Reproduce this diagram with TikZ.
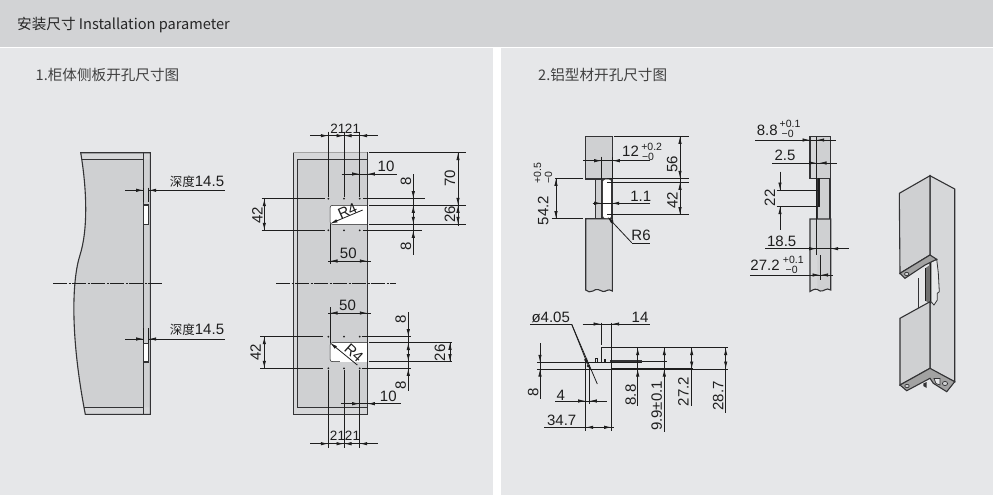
\documentclass[tikz,border=0pt]{standalone}
\usepackage{fontspec}
\setmainfont{Liberation Sans}
\newfontfamily\cjk{Noto Sans CJK SC}
\usetikzlibrary{arrows.meta}
\definecolor{hdr}{HTML}{D2D3D5}
\definecolor{pan}{HTML}{E6E7E9}
\definecolor{fillA}{HTML}{CFD0D2}
\definecolor{fillB}{HTML}{D6D7D9}
\definecolor{ink}{HTML}{1E1E1E}
\definecolor{edge}{HTML}{333335}
\definecolor{band}{HTML}{A2A2A2}
\tikzset{
  dl/.style={draw=ink,line width=0.8pt},
  ar/.style={draw=ink,line width=0.8pt,-{Latex[length=7.5pt,width=3.4pt]}},
  outl/.style={draw=edge,line width=1.1pt},
  thick outl/.style={draw=ink,line width=1.5pt},
  lb/.style={inner sep=0pt,text=ink,font=\fontsize{15}{15}\selectfont},
  lbs/.style={inner sep=0pt,text=ink,font=\fontsize{13.5}{14}\selectfont},
  sm/.style={inner sep=0pt,text=ink,font=\fontsize{10.5}{10.5}\selectfont},
  cn/.style={inner sep=0pt,anchor=west,text=black!75,font=\cjk\fontsize{14.6}{15}\selectfont},
  cnb/.style={inner sep=0pt,anchor=west,text=black!85,font=\cjk\fontsize{14.6}{15}\selectfont},
  ctr/.style={draw=ink,line width=0.8pt,dash pattern=on 14pt off 1.5pt on 2pt off 1.5pt},
}
\newcommand{\arr}[2]{\draw[ar] (#1) -- (#2);}
\newcommand{\hd}[3]{\draw[dl] (#1,#3) -- (#2,#3);}
\newcommand{\vd}[3]{\draw[dl] (#3,#1) -- (#3,#2);}
\begin{document}
\begin{tikzpicture}[x=1pt,y=-1pt]
\useasboundingbox (0,0) rectangle (993,495);
\fill[white] (0,0) rectangle (993,495);
\fill[hdr] (0,0) rectangle (993,46.7);
\fill[pan] (0,48.3) rectangle (493,495);
\fill[pan] (501,48.3) rectangle (993,495);
\node[cnb] (title) at (17,25.5) {安装尺寸 Installation parameter};
\node[cn] (t1) at (35.5,75) {1.柜体侧板开孔尺寸图};
\node[cn] (t2) at (538,75) {2.铝型材开孔尺寸图};

% ---------- cabinet side view
\fill[fillA] (80.7,152.7) .. controls (87,190) and (88,230) .. (80,255) .. controls (72,280) and (70,335) .. (85.3,414.3) -- (150.3,414.3) -- (150.3,152.7) -- cycle;
\fill[fillB] (80.7,152.7) -- (150.3,152.7) -- (150.3,159.3) -- (82,159.3) -- cycle;
\fill[fillB] (83.5,407.3) -- (150.3,407.3) -- (150.3,414.3) -- (85.3,414.3) -- cycle;
\draw[outl] (85.3,414.3) .. controls (70,335) and (72,280) .. (80,255) .. controls (88,230) and (87,190) .. (80.7,152.7) -- (150.3,152.7) -- (150.3,414.3) -- cycle;
\draw[outl] (143.7,152.7) -- (143.7,414.3);
\draw[draw=edge,line width=0.8pt] (82,159.3) -- (143.7,159.3) (83.5,407.3) -- (143.7,407.3);
\draw[outl,fill=white] (143.7,205) rectangle (148.7,224.3);
\draw[outl,fill=white] (143.7,343.3) rectangle (148.7,362);
\draw[ctr] (53.3,283.7) -- (161.7,283.7);
\vd{187.7}{201.7}{143.7}\vd{187.7}{201.7}{148.7}
\hd{125}{143.7}{190.3}\hd{148.7}{225}{190.3}
\arr{132,190.3}{143.7,190.3}\arr{160,190.3}{148.7,190.3}
\node[lb] (d1) at (197,181.5) {{\cjk\fontsize{12.5}{13}\selectfont 深度}14.5};
\vd{328}{343}{143.7}\vd{328}{343}{148.7}
\hd{125}{143.7}{339}\hd{148.7}{225}{339}
\arr{132,339}{143.7,339}\arr{160,339}{148.7,339}
\node[lb] (d2) at (197,329.5) {{\cjk\fontsize{12.5}{13}\selectfont 深度}14.5};

% ---------- panel front view
\fill[fillB] (293.3,152.7) rectangle (367.3,414.3);
\fill[fillA] (297.3,159.3) rectangle (367.3,407.7);
\draw[outl] (293.3,152.7) rectangle (367.3,414.3);
\draw[draw=edge,line width=0.8pt] (367.3,159.3) -- (297.3,159.3) -- (297.3,407.7) -- (367.3,407.7);
\draw[draw=band,line width=1.2pt] (293.3,152.7) -- (367.3,152.7);
\draw[draw=ink,line width=0.5pt,fill=white,rounded corners=2.5pt] (367.3,224.3) -- (330,224.3) -- (330,205.3) -- (367.3,205.3);
\fill[white] (340,205.5) rectangle (367.3,224.1);
\draw[draw=ink,line width=0.5pt,fill=white,rounded corners=2.5pt] (367.3,342.7) -- (330,342.7) -- (330,361.7) -- (367.3,361.7);
\fill[white] (340,342.9) rectangle (367.3,361.5);
\draw[draw=edge,line width=1pt] (367.3,152.7) -- (367.3,414.3);
\draw[ctr] (276,283.7) -- (396,283.7);
\foreach \yy in {198.7,230.3,336.7,368.3}
  \foreach \xx in {328.3,344,359.7}
    \fill[ink] (\xx,\yy) circle (1pt);

% upper hole dims
\foreach \xx in {328.3,344,359.7} {\vd{131.7}{196.7}{\xx}}
\hd{310}{378.3}{135.7}
\arr{318,135.7}{328.3,135.7}\arr{354,135.7}{344,135.7}\arr{334,135.7}{344,135.7}\arr{370,135.7}{359.7,135.7}
\node[lbs] (a21a) at (337.8,128.5) {21};
\node[lbs] (a21b) at (352.5,128.5) {21};
\hd{341.7}{396.7}{174}
\arr{350,174}{359.7,174}\arr{377,174}{367.3,174}
\node[lb] (a10) at (386,166.5) {10};
\hd{369}{465.7}{152.7}\hd{369}{465.7}{205.3}\hd{369}{465.7}{224.3}
\vd{152.7}{226}{458}
\arr{458,162}{458,152.7}\arr{458,195}{458,205.3}\arr{458,214.8}{458,205.3}\arr{458,214.8}{458,224.3}
\node[lb,rotate=90] (a70) at (450,178.5) {70};
\node[lb,rotate=90] (a26) at (450,214.5) {26};
\vd{174.3}{255}{413.3}
\hd{363.3}{425}{198.7}\hd{363.3}{422.3}{230.3}
\arr{413.3,189}{413.3,198.7}\arr{413.3,215}{413.3,205.3}\arr{413.3,215}{413.3,224.3}\arr{413.3,240}{413.3,230.3}
\node[lb,rotate=90] (a8a) at (406,181) {8};
\node[lb,rotate=90] (a8b) at (406,246) {8};
\hd{261.7}{325}{198.7}\hd{261.7}{325}{230.3}
\vd{198.7}{230.3}{264.3}
\arr{264.3,214}{264.3,198.7}\arr{264.3,215}{264.3,230.3}
\node[lb,rotate=90] (a42) at (257.3,215.5) {42};
\vd{224.3}{264.3}{330}
\hd{328.3}{370.7}{261}
\arr{340,261}{330,261}\arr{357,261}{367.3,261}
\node[lb] (a50) at (348.3,253) {50};
\draw[ar] (362.7,210) -- (330,223.7);
\node[lb,rotate=24] (ar4) at (347.5,211) {R4};

% lower hole dims
\vd{307.3}{342.7}{330}
\hd{328.3}{370.7}{313}
\arr{340,313}{330,313}\arr{357,313}{367.3,313}
\node[lb] (b50) at (347.5,305) {50};
\hd{260}{323.3}{336.7}\hd{260}{323.3}{368.3}
\vd{336.7}{368.3}{264.3}
\arr{264.3,352}{264.3,336.7}\arr{264.3,353}{264.3,368.3}
\node[lb,rotate=90] (b42) at (255.7,352.5) {42};
\vd{312.3}{391}{408.3}
\hd{361.7}{410.7}{336.7}\hd{361.7}{410.7}{368.3}
\hd{369}{452.3}{342.3}\hd{369}{452.3}{361.7}
\arr{408.3,327}{408.3,336.7}\arr{408.3,352}{408.3,342.5}\arr{408.3,352}{408.3,361.5}\arr{408.3,378}{408.3,368.3}
\vd{342.3}{361.7}{450}
\arr{450,352}{450,342.3}\arr{450,352}{450,361.7}
\node[lb,rotate=90] (b26) at (440,352.7) {26};
\node[lb,rotate=90] (b8a) at (400.7,319.5) {8};
\node[lb,rotate=90] (b8b) at (400.7,385.5) {8};
\draw[ar] (357.3,365) -- (330,342.7);
\node[lb,rotate=-42] (br4) at (354,353) {R4};
\hd{341}{401}{403.7}
\arr{350,403.7}{359.7,403.7}\arr{377,403.7}{367.3,403.7}
\node[lb] (b10) at (388.3,396.7) {10};
\foreach \xx in {328.3,344,359.7} {\vd{370}{447.7}{\xx}}
\hd{310}{378.3}{443.7}
\arr{318,443.7}{328.3,443.7}\arr{354,443.7}{344,443.7}\arr{334,443.7}{344,443.7}\arr{370,443.7}{359.7,443.7}
\node[lbs] (b21a) at (337.5,435.7) {21};
\node[lbs] (b21b) at (352.5,435.7) {21};

% ---------- profile front view 1
\fill[fillA] (585.7,136.3) rectangle (612.3,179);
\fill[fillA] (585.7,218.7) -- (612.3,218.7) -- (612.3,291) .. controls (608,288) and (606,292) .. (603,291.5) .. controls (599,290) and (597,288) .. (593,291) .. controls (590,292.5) and (588,292) .. (585.7,290) -- cycle;
\fill[fillA] (595.7,179) rectangle (602,218.7);
\draw[outl] (612.3,179) -- (585.7,179) -- (585.7,136.3) -- (612.3,136.3) -- cycle;
\draw[outl] (612.3,291) .. controls (608,288) and (606,292) .. (603,291.5) .. controls (599,290) and (597,288) .. (593,291) .. controls (590,292.5) and (588,292) .. (585.7,290) -- (585.7,218.7) -- (612.3,218.7) -- cycle;
\draw[outl] (595.7,179) -- (595.7,218.7);
\draw[outl] (602,179) -- (602,218.7);
\draw[draw=ink,line width=0.5pt,fill=white,rounded corners=3pt] (611.7,179) -- (602.5,179) -- (602.5,218.7) -- (611.7,218.7) -- cycle;
\draw[outl] (612,179) -- (612,218.7);
\hd{614}{689}{136.3}\hd{607}{689}{178.3}\hd{607}{689}{182.3}\hd{607}{689}{214.7}
\vd{136.3}{214.7}{680}
\arr{680,146}{680,136.3}\arr{680,168}{680,178.3}\arr{680,192}{680,182.3}\arr{680,205}{680,214.7}
\node[lb,rotate=90] (c56) at (672.3,164.3) {56};
\node[lb,rotate=90] (c42) at (672.3,200) {42};
\hd{555}{583.3}{178.3}\hd{551.7}{583.3}{218.7}
\vd{178.3}{218.7}{556}
\arr{556,198}{556,178.3}\arr{556,199}{556,218.7}
\node[lb,rotate=90] (c54) at (543.3,210.5) {54.2};
\node[sm,rotate=90] (c54p) at (537.5,173) {+0.5};
\node[sm,rotate=90] (c54m) at (548.5,177.5) {−0};
\vd{156.7}{179}{601.7}\vd{156.7}{179}{612.3}
\hd{583.3}{650}{160.7}
\arr{592,160.7}{601.7,160.7}\arr{622,160.7}{612.3,160.7}
\node[lb] (c12) at (630.5,151.7) {12};
\node[sm] (c12p) at (651.7,146.5) {+0.2};
\node[sm] (c12m) at (648,156.7) {−0};
\hd{592.7}{650}{203.3}
\arr{592.7,203.3}{601.7,203.3}\arr{621,203.3}{611.7,203.3}
\node[lb] (c11) at (640.7,196.7) {1.1};
\draw[ar] (631.7,242.7) -- (607.3,216.7);
\hd{631.7}{650}{243}
\node[lb] (cr6) at (641,235) {R6};

% ---------- profile side view
\fill[fillB] (810,136.7) rectangle (830.7,178.3);
\fill[fillA] (817.3,136.7) rectangle (830.7,178.3);
\fill[fillA] (817.3,178.3) rectangle (830,219);
\fill[fillB] (810,219) -- (830.7,219) -- (830.7,290) .. controls (826,287) and (824,292) .. (820,291) .. controls (816,288) and (814,289) .. (810,291.5) -- cycle;
\fill[fillA] (817.3,219) -- (830.7,219) -- (830.7,290) .. controls (826,287) and (824,292) .. (820,291) .. controls (819,290.5) and (818,290) .. (817.3,289.5) -- cycle;
\draw[outl] (810,178.3) -- (810,136.7) -- (830.7,136.7) -- (830.7,178.3) -- cycle;
\draw[outl] (817.3,178.3) -- (817.3,219);
\draw[outl] (830,178.3) -- (830,219);
\draw[outl] (830.7,290) .. controls (826,287) and (824,292) .. (820,291) .. controls (816,288) and (814,289) .. (810,291.5) -- (810,219) -- (830.7,219) -- cycle;
\draw[thick outl] (819,178.3) -- (819,206.7);
\vd{136.7}{255}{816.7}
\hd{755}{835.7}{140}
\arr{800,140}{810,140}\arr{826.5,140}{816.7,140}
\node[lb] (e88) at (767.3,130) {8.8};
\node[sm] (e88p) at (790,123.5) {+0.1};
\node[sm] (e88m) at (787.7,133.5) {−0};
\hd{772.3}{837.3}{163}
\arr{807,163}{816.7,163}\arr{829,163}{819,163}
\node[lb] (e25) at (785,155.7) {2.5};
\hd{776.7}{819}{190}\hd{776.7}{819}{206.7}
\vd{171.7}{190}{780}\vd{206.7}{230}{780}
\arr{780,180}{780,190}\arr{780,216.5}{780,206.7}
\node[lb,rotate=90] (e22) at (770,197.7) {22};
\hd{765}{849.3}{248.7}
\arr{807,248.7}{816.7,248.7}\arr{840,248.7}{830.7,248.7}
\node[lb] (e185) at (781.7,241) {18.5};
\vd{255}{280}{820}
\hd{750}{833.3}{275}
\arr{810,275}{820,275}\arr{830,275}{820.5,275}
\node[lb] (e27) at (765,265.7) {27.2};
\node[sm] (e27p) at (793.3,259.5) {+0.1};
\node[sm] (e27m) at (791.7,269.5) {−0};

% ---------- top view
\draw[draw=ink,line width=0.8pt] (537.3,369) -- (728.3,369);
\draw[draw=ink,line width=0.8pt] (537.3,362.3) -- (641.7,362.3);
\draw[draw=ink,line width=0.7pt] (641.7,361) -- (667.3,361);
\draw[draw=ink,line width=1.5pt] (601.7,362) -- (601.7,347.7) -- (694,347.7);
\draw[draw=ink,line width=0.7pt] (694,347.7) -- (728.3,347.7);
\draw[draw=ink,line width=1.5pt] (610.7,369) -- (693.3,369);
\draw[draw=edge,line width=1.5pt] (610,361.2) -- (641.7,361.2);
\draw[draw=ink,line width=1pt] (611.7,347.7) -- (611.7,369);
\draw[draw=ink,line width=1pt] (595,362) -- (595,358) -- (597.5,358) -- (597.5,362);
\fill[ink] (603.5,359) rectangle (606,362);
\vd{322.7}{345}{601}\vd{322.7}{347.7}{611.7}
\hd{582.7}{650}{324}
\arr{591,324}{601,324}\arr{622,324}{611.7,324}
\node[lb] (f14) at (640,317.3) {14};
\node[lb] (fd) at (550.7,317.7) {ø4.05};
\hd{530}{571.7}{324.3}
\draw[dl] (571.7,324.3) -- (597.3,384);
\draw[ar] (571.7,324.3) -- (588.3,366);
\fill[ink] (588.3,366) circle (1.6pt);
\vd{343.3}{399}{540}
\arr{540,352.5}{540,362.3}\arr{540,379}{540,369}
\node[lb,rotate=90] (f8) at (533.3,392.5) {8};
\hd{555}{607.3}{401}
\arr{576,401}{585.7,401}\arr{599,401}{589.3,401}
\node[lb] (f4) at (560.7,395) {4};
\draw[draw=ink,line width=1pt] (585.7,361) -- (585.7,430.7);
\vd{365}{404.3}{589.3}
\vd{369}{430.7}{611.7}
\hd{544}{614.3}{427.3}
\arr{596,427.3}{585.7,427.3}\arr{602,427.3}{611.7,427.3}
\node[lb] (f347) at (561.7,420) {34.7};
\vd{347.7}{406}{637.7}
\arr{637.7,361}{637.7,347.7}\arr{637.7,379}{637.7,369}
\node[lb,rotate=90] (f88) at (630.7,395) {8.8};
\vd{347.7}{431.7}{664.3}
\arr{664.3,361}{664.3,347.7}\arr{664.3,379}{664.3,369}
\node[lb,rotate=90] (f99) at (656.7,406) {9.9±0.1};
\vd{347.7}{406}{691.7}
\arr{691.7,358}{691.7,347.7}\arr{691.7,358.5}{691.7,369}
\node[lb,rotate=90] (f272) at (683.3,391.7) {27.2};
\vd{347.7}{413.3}{725.7}
\arr{725.7,358}{725.7,347.7}\arr{725.7,358.5}{725.7,369}
\node[lb,rotate=90] (f287) at (718.3,396) {28.7};

% ---------- 3D view
% right face
\draw[outl,fill=fillB] (930,175.7) -- (954.7,189) -- (954.7,381.7) -- (930,369) -- cycle;
% recess behind the opening
\fill[pan] (918.3,275) -- (930,266) -- (930,306) -- (918.3,313) -- cycle;
\draw[draw=edge,line width=0.8pt] (918.3,278) -- (918.3,313);
% fitting plate and dark channel
\draw[draw=edge,line width=0.8pt,fill=pan] (931,262) -- (936.7,259.3) -- (938.3,273) -- (939.3,291.7) -- (937.3,293.3) -- (937.3,300) -- (934,305) -- (931,301.7) -- cycle;
\fill[band!70!black] (925.7,268) -- (931,264) -- (931,304) -- (925.7,301) -- cycle;
\draw[draw=ink,line width=0.7pt] (925.7,268) -- (925.7,301);
\draw[draw=ink,line width=1pt] (930,256) -- (930,304);
% upper block
\draw[outl,fill=fillA] (899.3,193.3) -- (930,175.7) -- (930,255) -- (900,273.3) -- cycle;
\draw[outl,fill=band] (900,273.3) -- (930,255) -- (936.7,259.3) -- (925,265) -- (905,278.3) -- cycle;
\draw[draw=edge,line width=0.7pt,fill=hdr] (906.7,274) ellipse (2.2pt and 1.7pt);
% lower block
\draw[outl,fill=fillA] (900,318.3) -- (930,301.7) -- (930,368.3) -- (900,385) -- cycle;
% base band
\draw[outl,fill=band] (900,385) -- (930,368.3) -- (954.7,381.7) -- (946.7,391.7) -- (933.3,383.3) -- (930,378.3) -- (906.7,390.7) -- cycle;
\draw[draw=edge,line width=0.7pt,fill=hdr] (907,386) ellipse (2.2pt and 1.7pt);
\draw[draw=edge,line width=0.7pt,fill=hdr] (945,383.5) ellipse (2.6pt and 2.1pt);
\draw[draw=edge,line width=0.7pt,fill=pan] (934,378.5) -- (940,378.5) -- (940,385) -- (936,383.5) -- cycle;
\fill[edge] (923.3,383.5) -- (926.7,382) -- (926.7,388) -- (923.3,386) -- cycle;
\end{tikzpicture}
\end{document}
